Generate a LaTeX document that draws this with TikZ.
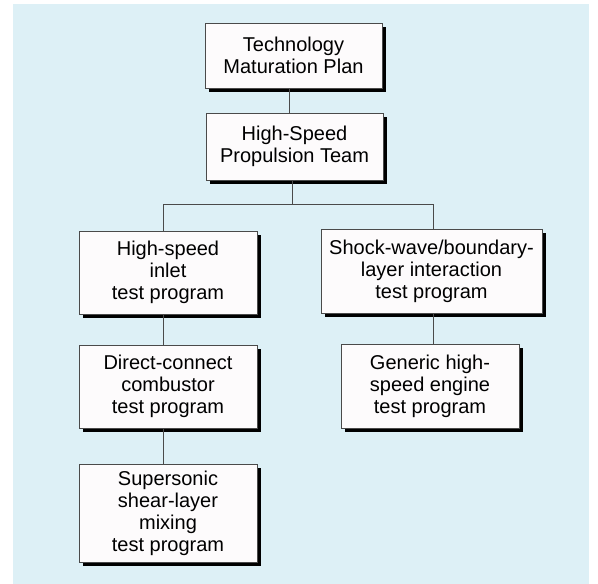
\documentclass[tikz,border=0pt]{standalone}
\usepackage{fontspec}
\setmainfont{Liberation Sans}
\usetikzlibrary{shadows}
\definecolor{panelbg}{HTML}{DDF0F6}
\definecolor{boxfill}{HTML}{FDFBFC}
\definecolor{linegray}{HTML}{4A4A4A}

\begin{document}
\begin{tikzpicture}[
    x=1pt, y=-1pt,
    font=\fontsize{20}{22}\selectfont,
    box/.style={draw=linegray, line width=0.7pt, fill=boxfill, align=center, inner sep=0pt,
      drop shadow={shadow xshift=3.5pt, shadow yshift=-3.5pt, fill=black, opacity=1}},
    link/.style={draw=linegray, line width=0.9pt}
  ]
    \useasboundingbox (0,0) rectangle (598,584);
    \fill[white] (0,0) rectangle (598,584);
    \fill[panelbg] (13,4) rectangle (589,584);

    \node[box, minimum width=177pt, minimum height=65pt] (plan) at (293.5,55.5) {Technology\\Maturation Plan};
    \node[box, minimum width=177pt, minimum height=67pt] (team) at (294.5,146.5) {High-Speed\\Propulsion Team};
    \node[box, minimum width=178pt, minimum height=83pt] (inlet) at (168,272.5) {High-speed\\inlet\\test program};
    \node[box, minimum width=221pt, minimum height=84pt] (shock) at (431.5,271) {Shock-wave/boundary-\\layer interaction\\test program};
    \node[box, minimum width=178pt, minimum height=83pt] (comb) at (168,386.5) {Direct-connect\\combustor\\test program};
    \node[box, minimum width=178pt, minimum height=84pt] (engine) at (430,386) {Generic high-\\speed engine\\test program};
    \node[box, minimum width=178pt, minimum height=98pt] (mix) at (168,513) {Supersonic\\shear-layer\\mixing\\test program};

    % branch points of the tree
    \coordinate (tbr) at (289,100);
    \coordinate (mbr) at (292,204);
    \coordinate (lbr) at (163,204);
    \coordinate (rbr) at (433,204);

    \draw[link] (plan.south -| tbr) -- (team.north -| tbr);
    \draw[link] (team.south -| mbr) -- (mbr);
    \draw[link] (inlet.north -| lbr) -- (lbr) -- (rbr) -- (shock.north -| rbr);
    \draw[link] (inlet.south -| lbr) -- (comb.north -| lbr);
    \draw[link] (comb.south -| lbr) -- (mix.north -| lbr);
    \draw[link] (shock.south -| rbr) -- (engine.north -| rbr);
  \end{tikzpicture}
\end{document}
